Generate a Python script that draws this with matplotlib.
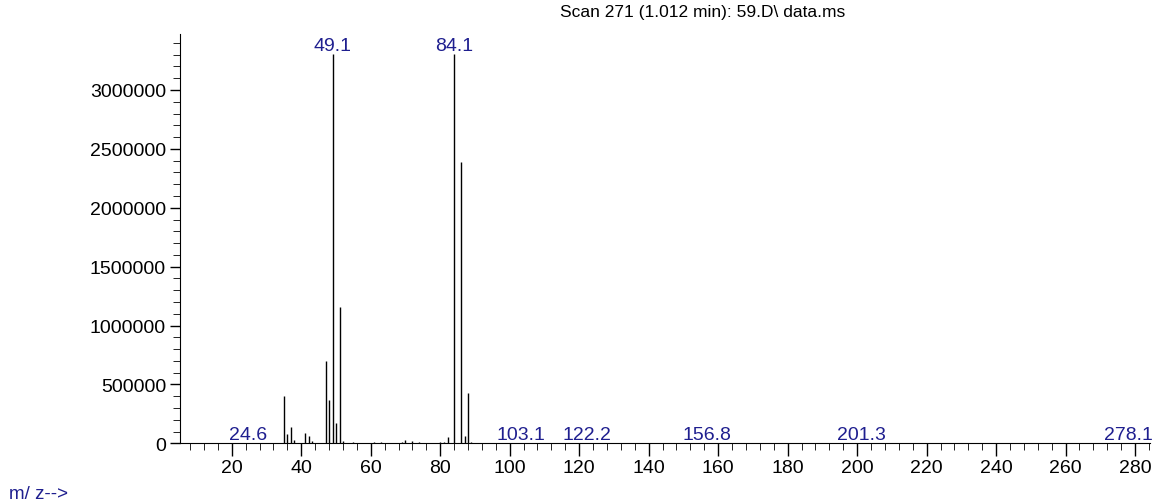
import matplotlib.pyplot as plt
from matplotlib.ticker import MultipleLocator, FuncFormatter

plt.rcParams['font.family'] = ['Liberation Sans', 'DejaVu Sans']

# mass spectrum, scan 271
mz = [24.6, 35.0, 36.0, 37.1, 38.0, 41.1, 42.1, 43.0, 47.1, 48.1, 49.1, 50.0, 51.1, 52.0,
      53.0, 55.0, 57.0, 59.0, 61.0, 63.0, 65.0, 67.0, 69.0, 70.0, 72.0, 74.0, 75.0, 77.0,
      79.0, 80.0, 81.0, 82.1, 84.1, 86.0, 87.1, 88.0, 89.0,
      103.1, 122.2, 156.8, 201.3, 278.1]
intensity = [1000, 400000, 80000, 138000, 28000, 90000, 62000, 17000, 700000, 368000, 3305000,
             172000, 1155000, 17000,
             6000, 9000, 5000, 5000, 10000, 7000, 5000, 6000, 10000, 25000, 20000, 8000, 6000, 5000,
             6000, 8000, 10000, 51000, 3305000, 2385000, 59000, 427000, 9000,
             1000, 1000, 1000, 1000, 1000]
labeled = [24.6, 49.1, 84.1, 103.1, 122.2, 156.8, 201.3, 278.1]

navy = '#1f1f8f'

fig = plt.figure(figsize=(11.64, 5.02), dpi=100)
ax = fig.add_axes([180 / 1164, 1 - 444.3 / 502, 970 / 1164, (444.3 - 35) / 502])

ax.vlines(mz, 0, intensity, color='black', linewidth=1.0)

for m, h in zip(mz, intensity):
    if m in labeled:
        ax.annotate(f"{m:.1f}", (m, h), xytext=(0, 3), textcoords='offset points',
                    ha='center', va='baseline', color=navy, fontsize=14)

ax.set_xlim(5.1, 284.3)
ax.set_ylim(0, 3475000)

ax.xaxis.set_major_locator(MultipleLocator(20))
ax.xaxis.set_minor_locator(MultipleLocator(4))
ax.yaxis.set_major_locator(MultipleLocator(500000))
ax.yaxis.set_minor_locator(MultipleLocator(100000))
ax.yaxis.set_major_formatter(FuncFormatter(lambda v, p: f"{int(v)}"))

ax.tick_params(axis='both', which='major', labelsize=14, direction='out', width=1.0)
ax.tick_params(axis='x', which='major', length=9, pad=2)
ax.tick_params(axis='x', which='minor', length=5)
ax.tick_params(axis='y', which='major', length=7, pad=3)
ax.tick_params(axis='y', which='minor', length=5)

ax.spines['top'].set_visible(False)
ax.spines['right'].set_visible(False)

fig.text(703 / 1164, 1 - 17 / 502, "Scan 271 (1.012 min): 59.D\\ data.ms",
         ha='center', va='baseline', fontsize=12.5)
fig.text(9 / 1164, 1 - 499 / 502, "m/ z-->", ha='left', va='baseline',
         fontsize=13.5, color=navy)

fig.savefig('out.png', dpi=100)
